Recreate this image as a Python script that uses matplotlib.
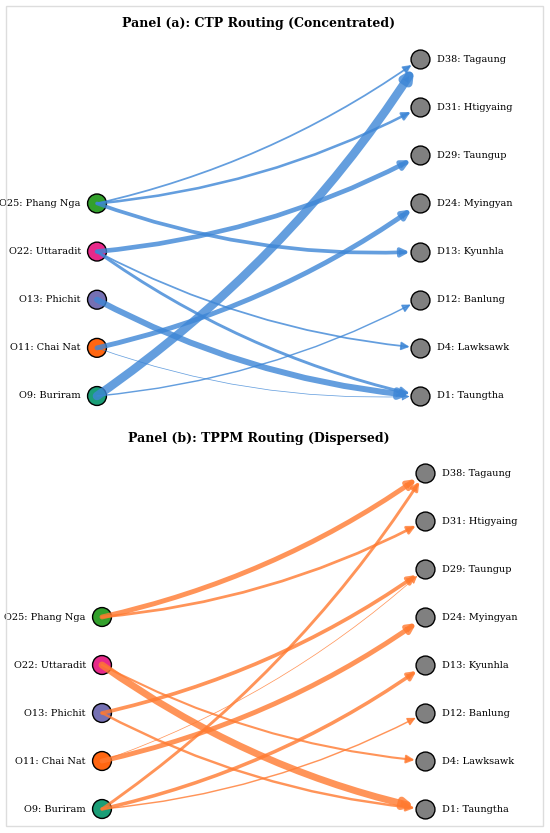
import matplotlib
matplotlib.use("Agg")
import matplotlib.pyplot as plt
from matplotlib.patches import FancyArrowPatch, Rectangle

# nodes (bottom to top)
origins = ["O9: Buriram", "O11: Chai Nat", "O13: Phichit", "O22: Uttaradit", "O25: Phang Nga"]
origin_colors = ["#1b9e77", "#ff6611", "#7570b3", "#e7298a", "#33a02c"]
destinations = ["D1: Taungtha", "D4: Lawksawk", "D12: Banlung", "D13: Kyunhla",
                "D24: Myingyan", "D29: Taungup", "D31: Htigyaing", "D38: Tagaung"]

# flows (origin index, destination index, flow)
ctp_src = [0, 0, 1, 1, 2, 3, 3, 3, 4, 4, 4]
ctp_dst = [7, 2, 4, 0, 0, 5, 1, 0, 7, 6, 3]
ctp_flow = [100, 12, 55, 3, 68, 52, 16, 30, 16, 26, 40]

tppm_src = [0, 0, 0, 1, 1, 2, 2, 3, 3, 4, 4]
tppm_dst = [7, 3, 2, 4, 5, 5, 0, 0, 1, 7, 6]
tppm_flow = [30, 38, 12, 55, 3, 40, 24, 80, 20, 55, 28]

W, H = 550, 833
fig = plt.figure(figsize=(W / 100, H / 100), dpi=100)

# light frame around both panels
fig.patches.append(Rectangle((6 / W, 1 - 826 / H), 537 / W, 820 / H,
                             transform=fig.transFigure, fill=False,
                             edgecolor="#dddddd", lw=1.0))


def draw_panel(ax, src, dst, flow, color, title, ox, title_y):
    ax.set_xlim((6 - ox) / 323, (543 - ox) / 323)
    ax.axis("off")
    for s, d, f in zip(src, dst, flow):
        lw = 0.35 + 5.8 * f / 100
        arr = FancyArrowPatch((0, s), (1, d), connectionstyle="arc3,rad=0.1",
                              arrowstyle="-|>", mutation_scale=12, lw=lw,
                              color=color, alpha=0.8, shrinkA=0, shrinkB=7.5,
                              zorder=3)
        ax.add_patch(arr)
    ax.scatter([0] * len(origins), range(len(origins)), s=185, c=origin_colors,
               edgecolors="black", linewidths=1.0, zorder=2)
    ax.scatter([1] * len(destinations), range(len(destinations)), s=185, c="#808080",
               edgecolors="black", linewidths=1.0, zorder=2)
    for i, name in enumerate(origins):
        ax.text(-0.05, i, name, ha="right", va="center", fontsize=7, family="DejaVu Serif")
    for i, name in enumerate(destinations):
        ax.text(1.053, i, name, ha="left", va="center", fontsize=7, family="DejaVu Serif")
    fig.text(259 / W, 1 - title_y / H, title, ha="center", va="center",
             fontsize=9, fontweight="bold", family="DejaVu Serif")


ax1 = fig.add_axes([6 / W, 1 - 416 / H, 537 / W, 410 / H])
ax1.set_ylim((396 - 416) / 48.14, (396 - 6) / 48.14)
draw_panel(ax1, ctp_src, ctp_dst, ctp_flow, "#3d86d6",
           "Panel (a): CTP Routing (Concentrated)", 97, 24)

ax2 = fig.add_axes([6 / W, 1 - 826 / H, 537 / W, 410 / H])
ax2.set_ylim((809 - 826) / 48.0, (809 - 416) / 48.0)
draw_panel(ax2, tppm_src, tppm_dst, tppm_flow, "#ff7a30",
           "Panel (b): TPPM Routing (Dispersed)", 102, 438)

fig.savefig("out.png", dpi=100)
